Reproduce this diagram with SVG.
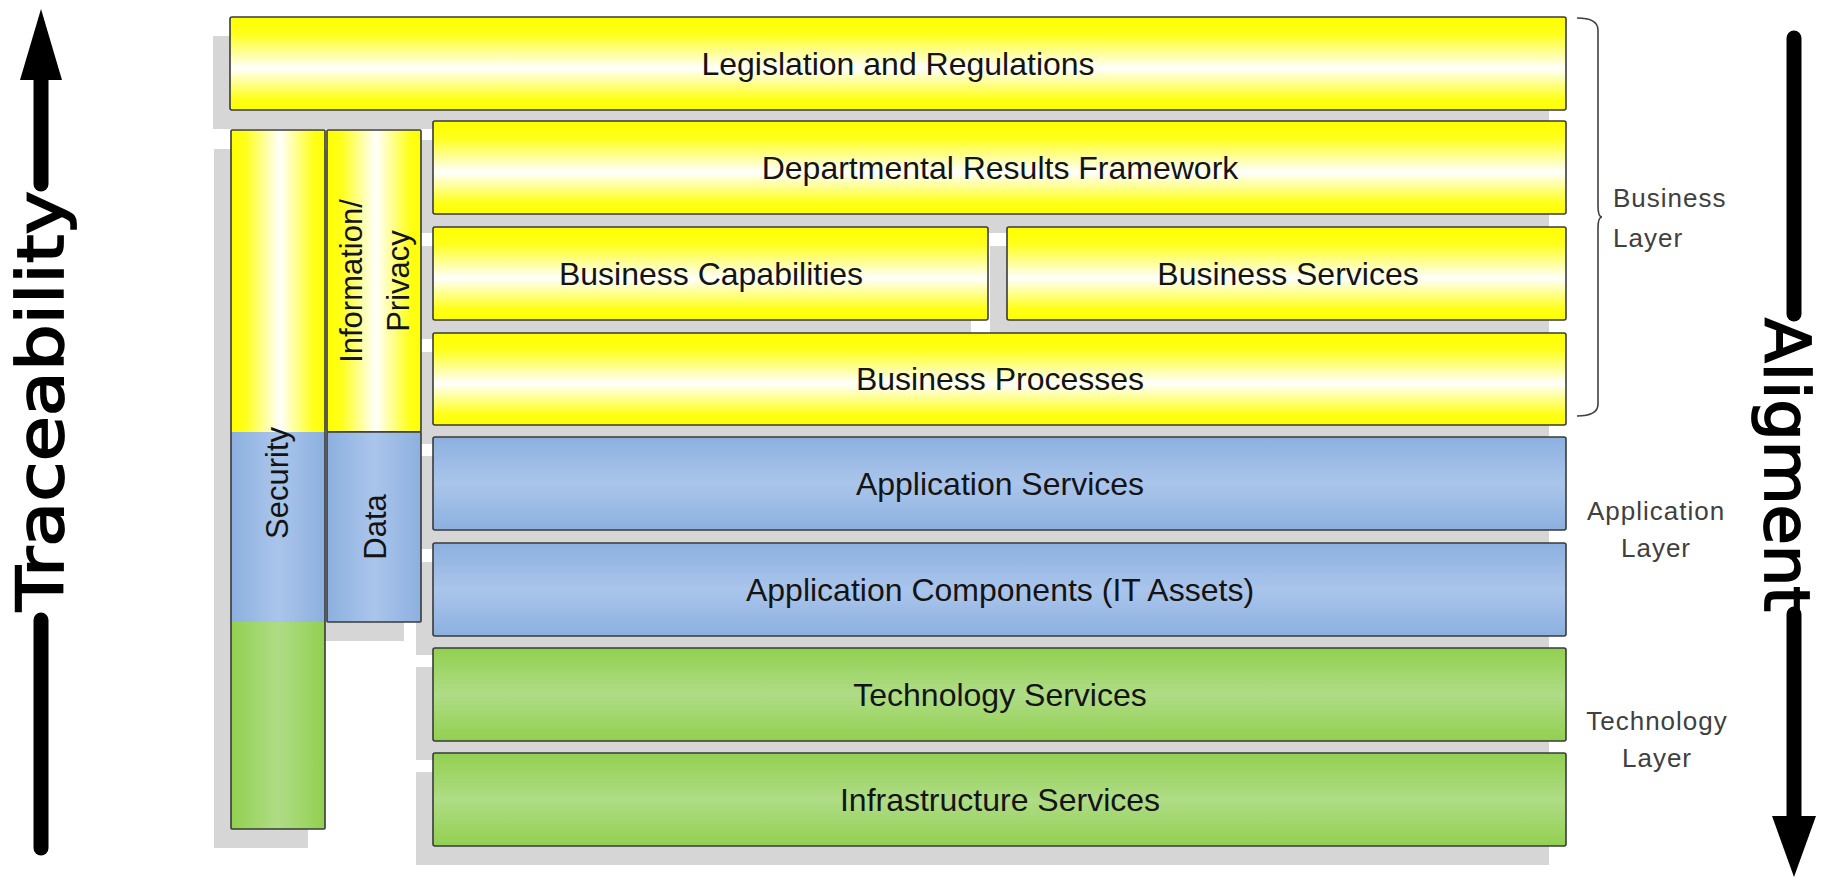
<svg xmlns="http://www.w3.org/2000/svg" width="1824" height="880" viewBox="0 0 1824 880">
<style>
.sh{fill:#d6d6d6}
.bx{stroke:#3a3a3a;stroke-width:1.6}
.t{font-family:"Liberation Sans",Arial,sans-serif;font-size:32px;fill:#141414;text-anchor:middle}
.vt{font-family:"Liberation Sans",Arial,sans-serif;font-size:31px;fill:#141414;text-anchor:middle}
.lay{font-family:"Liberation Sans",Arial,sans-serif;font-size:26px;fill:#404040;letter-spacing:1px}
.big{font-family:"DejaVu Sans",sans-serif;font-size:64px;fill:#000;stroke:#000;stroke-width:1.8;text-anchor:middle}
.arr{stroke:#000;stroke-width:15;stroke-linecap:round;fill:none}
</style>
<defs>
<linearGradient id="yH" x1="0" y1="0" x2="0" y2="1">
<stop offset="0" stop-color="#ffff00"/><stop offset="0.18" stop-color="#ffff1a"/><stop offset="0.55" stop-color="#ffffff"/><stop offset="0.88" stop-color="#ffff1a"/><stop offset="1" stop-color="#ffff00"/>
</linearGradient>
<linearGradient id="yV" x1="0" y1="0" x2="1" y2="0">
<stop offset="0" stop-color="#ffff00"/><stop offset="0.15" stop-color="#ffff1a"/><stop offset="0.52" stop-color="#ffffff"/><stop offset="0.88" stop-color="#ffff1a"/><stop offset="1" stop-color="#ffff00"/>
</linearGradient>
<linearGradient id="bH" x1="0" y1="0" x2="0" y2="1">
<stop offset="0" stop-color="#8cb0df"/><stop offset="0.5" stop-color="#aac5eb"/><stop offset="1" stop-color="#8cb0df"/>
</linearGradient>
<linearGradient id="bV" x1="0" y1="0" x2="1" y2="0">
<stop offset="0" stop-color="#8cb0df"/><stop offset="0.5" stop-color="#aac5eb"/><stop offset="1" stop-color="#8cb0df"/>
</linearGradient>
<linearGradient id="gH" x1="0" y1="0" x2="0" y2="1">
<stop offset="0" stop-color="#92d050"/><stop offset="0.5" stop-color="#afdc86"/><stop offset="1" stop-color="#92d050"/>
</linearGradient>
<linearGradient id="gV" x1="0" y1="0" x2="1" y2="0">
<stop offset="0" stop-color="#92d050"/><stop offset="0.5" stop-color="#afdc86"/><stop offset="1" stop-color="#92d050"/>
</linearGradient>
</defs>

<g id="shadows">
<rect class="sh" x="213" y="36" width="1336" height="93"/>
<rect class="sh" x="214" y="149" width="94" height="699"/>
<rect class="sh" x="310" y="149" width="94" height="302"/>
<rect class="sh" x="310" y="451" width="94" height="190"/>
<rect class="sh" x="416" y="140" width="1133" height="93"/>
<rect class="sh" x="416" y="246" width="555" height="93"/>
<rect class="sh" x="990" y="246" width="559" height="93"/>
<rect class="sh" x="416" y="352" width="1133" height="92"/>
<rect class="sh" x="416" y="456" width="1133" height="93"/>
<rect class="sh" x="416" y="562" width="1133" height="93"/>
<rect class="sh" x="416" y="667" width="1133" height="93"/>
<rect class="sh" x="416" y="772" width="1133" height="93"/>
</g>

<g id="legislation">
<rect class="bx" x="230" y="17" width="1336" height="93" rx="2" fill="url(#yH)"/>
<text class="t" x="898" y="75">Legislation and Regulations</text>
</g>

<g id="security">
<rect x="231" y="130" width="94" height="302" fill="url(#yV)"/>
<rect x="231" y="432" width="94" height="190" fill="url(#bV)"/>
<rect x="231" y="622" width="94" height="207" fill="url(#gV)"/>
<rect class="bx" x="231" y="130" width="94" height="699" rx="1" fill="none"/>
<text class="vt" transform="translate(288,483) rotate(-90)">Security</text>
</g>

<g id="information-privacy">
<rect class="bx" x="327" y="130" width="94" height="302" rx="1" fill="url(#yV)"/>
<text class="vt" transform="translate(362,281) rotate(-90)">Information/</text>
<text class="vt" transform="translate(409,281) rotate(-90)">Privacy</text>
</g>

<g id="data">
<rect class="bx" x="327" y="432" width="94" height="190" rx="1" fill="url(#bV)"/>
<text class="vt" transform="translate(386,527) rotate(-90)">Data</text>
</g>

<g id="departmental">
<rect class="bx" x="433" y="121" width="1133" height="93" rx="2" fill="url(#yH)"/>
<text class="t" x="1000" y="179">Departmental Results Framework</text>
</g>

<g id="business-capabilities">
<rect class="bx" x="433" y="227" width="555" height="93" rx="2" fill="url(#yH)"/>
<text class="t" x="711" y="285">Business Capabilities</text>
</g>

<g id="business-services">
<rect class="bx" x="1007" y="227" width="559" height="93" rx="2" fill="url(#yH)"/>
<text class="t" x="1288" y="285">Business Services</text>
</g>

<g id="business-processes">
<rect class="bx" x="433" y="333" width="1133" height="92" rx="2" fill="url(#yH)"/>
<text class="t" x="1000" y="390">Business Processes</text>
</g>

<g id="application-services">
<rect class="bx" x="433" y="437" width="1133" height="93" rx="2" fill="url(#bH)"/>
<text class="t" x="1000" y="495">Application Services</text>
</g>

<g id="application-components">
<rect class="bx" x="433" y="543" width="1133" height="93" rx="2" fill="url(#bH)"/>
<text class="t" x="1000" y="601">Application Components (IT Assets)</text>
</g>

<g id="technology-services">
<rect class="bx" x="433" y="648" width="1133" height="93" rx="2" fill="url(#gH)"/>
<text class="t" x="1000" y="706">Technology Services</text>
</g>

<g id="infrastructure-services">
<rect class="bx" x="433" y="753" width="1133" height="93" rx="2" fill="url(#gH)"/>
<text class="t" x="1000" y="811">Infrastructure Services</text>
</g>

<g id="business-layer">
<path d="M1577,18 Q1598,18 1598,30 L1598,206 Q1598,217 1602,217 Q1598,217 1598,228 L1598,404 Q1598,416 1577,416" fill="none" stroke="#404040" stroke-width="1.6"/>
<text class="lay" x="1613" y="207">Business</text>
<text class="lay" x="1613" y="247">Layer</text>
</g>

<g id="application-layer">
<text class="lay" x="1656" y="520" text-anchor="middle">Application</text>
<text class="lay" x="1656" y="557" text-anchor="middle">Layer</text>
</g>

<g id="technology-layer">
<text class="lay" x="1657" y="730" text-anchor="middle">Technology</text>
<text class="lay" x="1657" y="767" text-anchor="middle">Layer</text>
</g>

<g id="connectors">
<path d="M41,9 L62,80 L20,80 Z" fill="#000"/>
<line class="arr" x1="41" y1="78" x2="41" y2="184"/>
<line class="arr" x1="41" y1="620" x2="41" y2="848"/>
<line class="arr" x1="1794" y1="38" x2="1794" y2="314"/>
<line class="arr" x1="1794" y1="614" x2="1794" y2="818"/>
<path d="M1794,877 L1816,816 L1772,816 Z" fill="#000"/>
</g>

<g id="traceability">
<text class="big" transform="translate(63,401) rotate(-90)" textLength="420" lengthAdjust="spacingAndGlyphs">Traceability</text>
</g>
<g id="alignment">
<text class="big" style="font-size:62px" transform="translate(1765,465) rotate(90)" textLength="294" lengthAdjust="spacingAndGlyphs">Aligment</text>
</g>
</svg>
